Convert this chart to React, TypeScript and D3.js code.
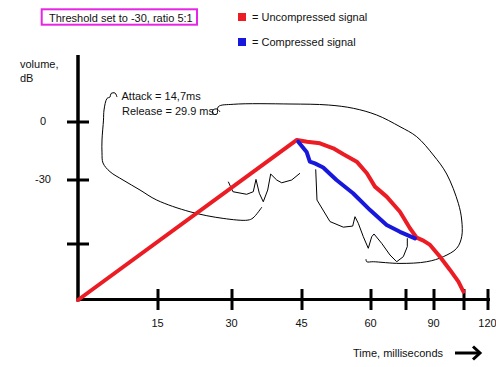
import React from "react";
import * as d3 from "d3";

// ---- data ----
const timeTicks = [0, 15, 30, 45, 60, 75, 90, 105, 120];
const timeTickLabels = ["", "15", "30", "45", "60", "", "90", "", "120"];
const dbTicks = [-90, -60, -30, 0];
const dbTickLabels = ["", "", "-30", "0"];

// [time ms, volume dB]
const uncompressed: [number, number][] = [
  [0, -90], [43.9, -9.3], [46.1, -10.2], [48.9, -11.0], [51.8, -13.6], [54.0, -16.7],
  [56.9, -20.5], [59.1, -26.5], [61.7, -33.1], [66.7, -37.8], [72.4, -44.9], [73.7, -47.2],
  [77.1, -52.6], [80.7, -57.0], [84.3, -58.4], [87.9, -60.5], [93, -66.8], [98, -73.9],
  [102.2, -80.2], [104.7, -85.5],
];
const compressed: [number, number][] = [
  [44.2, -10.2], [46.0, -15.5], [46.7, -20.5], [47.8, -21.4], [49.6, -23.5], [52.5, -30],
  [56.1, -36.2], [59.8, -44.1], [66.7, -51.1], [72.4, -54.3], [79.8, -57.4],
];

// hand-drawn annotation strokes, in data units
const attackStroke: [number, number][] = [
  [7.31, 12.9], [6.94, 15.0], [6.19, 14.7], [6.0, 12.9], [5.44, 12.2], [4.88, 6.2], [4.78, 1.0],
  [4.5, -9.3], [4.5, -16.0], [4.69, -21.2], [6.0, -25.7], [8.44, -30], [11.63, -34.7],
  [14.76, -39.4], [21.5, -44.9], [28.2, -48.0], [33.4, -48.8], [34.5, -47.8], [36.4, -42.7],
];
const attackWiggle: [number, number][] = [
  [29.25, -30.8], [30.2, -35.5], [33.15, -36.7], [34.56, -35.5], [35.14, -29.7], [35.85, -36.2],
  [36.7, -40.2], [37.65, -34.7], [38.29, -26.9], [39.58, -30], [40.65, -31.3], [42.79, -30],
  [44.57, -26.5],
];
const releaseWiggle: [number, number][] = [
  [47.98, -24.5], [48.26, -39.4], [51.09, -49.5], [53.98, -52.1], [56.02, -51.6], [56.52, -47.2],
  [57.24, -50.3], [58.33, -56.6], [59.41, -62.3], [60.3, -56.6], [61.29, -55.3], [64.59, -59.7],
  [68.14, -65.9], [71.01, -69.5], [73.84, -66.8], [75.7, -61.4], [75.7, -57.3],
];
const releaseStroke: [number, number][] = [
  [27.57, 5.17], [26.96, 6.73], [26.15, 6.21], [26.15, 4.14], [26.96, 4.14], [27.22, 7.92],
  [30.28, 9.16], [42.43, 9.31], [50.72, 8.79], [56.15, 7.09], [62.44, 3.62], [72.43, -2.43],
  [80.73, -7.6], [89.62, -17.07], [96.35, -26.9], [102.15, -40.9], [103.85, -48.75],
  [103.85, -56.6], [101.35, -62.3], [94.65, -66.8], [86.09, -69.5], [72.43, -70.4],
  [60.99, -69.5], [59.07, -69.5], [58.91, -68.1],
];

const titleText = "Threshold set to -30, ratio 5:1";
const legendLabels = ["= Uncompressed signal", "= Compressed signal"];
const yAxisTitle = ["volume,", "dB"];
const xAxisTitle = "Time, milliseconds";
const attackText = "Attack = 14,7ms";
const releaseText = "Release = 29.9 ms";

const RED = "#ec1c24";
const BLUE = "#1818dc";
const MAGENTA = "#e526e5";
const FONT = "'Liberation Sans', Arial, sans-serif";

export default function App() {
  const x = d3.scaleLinear().domain(timeTicks).range([78, 158, 232, 302, 371, 406, 434, 464, 488]);
  const y = d3.scaleLinear().domain(dbTicks).range([300, 244, 180, 122]);

  const lin = d3.line<[number, number]>().x((d) => x(d[0])).y((d) => y(d[1]));
  const smooth = d3
    .line<[number, number]>()
    .x((d) => x(d[0]))
    .y((d) => y(d[1]))
    .curve(d3.curveCatmullRom.alpha(0.5));

  const x0 = x(0);
  const yBase = y(-90);

  return (
    <svg
      width={496}
      height={367}
      style={{ position: "absolute", left: 0, top: 0, background: "#fff" }}
      fontFamily={FONT}
      fontSize={11}
    >
      <rect width={496} height={367} fill="#fff" />
      {/* title box */}
      <rect x={41.7} y={9.3} width={155.3} height={15.4} fill="none" stroke={MAGENTA} strokeWidth={2} />
      <text x={49} y={21.5} fill="#111">{titleText}</text>

      {/* legend */}
      {[RED, BLUE].map((c, i) => (
        <g key={i}>
          <rect x={238} y={13 + i * 25} width={8} height={8} fill={c} />
          <text x={252} y={20.5 + i * 25} fill="#111">{legendLabels[i]}</text>
        </g>
      ))}

      {/* y axis title */}
      {yAxisTitle.map((t, i) => (
        <text key={i} x={20} y={68 + i * 14} fill="#111">{t}</text>
      ))}

      {/* annotations */}
      <g fill="none" stroke="#000" strokeWidth={1}>
        <path d={smooth(attackStroke) || ""} />
        <path d={lin(attackWiggle) || ""} />
        <path d={lin(releaseWiggle) || ""} />
        <path d={smooth(releaseStroke) || ""} />
      </g>
      <text x={121.5} y={100} fill="#111">{attackText}</text>
      <text x={122} y={115} fill="#111">{releaseText}</text>

      {/* axes */}
      <g stroke="#000" strokeWidth={3}>
        <line x1={x0} x2={x0} y1={55} y2={301.5} strokeWidth={3.5} />
        <line x1={x0 - 1} x2={490} y1={yBase - 0.5} y2={yBase - 0.5} />
        {dbTicks.slice(1).map((v) => (
          <line key={v} x1={x0 - 11} x2={x0 + 11} y1={y(v)} y2={y(v)} />
        ))}
        {timeTicks.slice(1).map((t) => (
          <line key={t} x1={x(t)} x2={x(t)} y1={yBase - 11} y2={yBase + 10} />
        ))}
      </g>
      {dbTicks.map((v, i) =>
        dbTickLabels[i] ? (
          <text key={v} x={43} y={y(v) + 2.5} textAnchor="middle" fill="#111">{dbTickLabels[i]}</text>
        ) : null
      )}
      {timeTicks.map((t, i) =>
        timeTickLabels[i] ? (
          <text key={t} x={x(t) - 0.5} y={326.5} textAnchor="middle" fill="#111">{timeTickLabels[i]}</text>
        ) : null
      )}

      {/* signals */}
      <path d={lin(uncompressed) || ""} fill="none" stroke={RED} strokeWidth={4} strokeLinejoin="round" strokeLinecap="round" />
      <path d={lin(compressed) || ""} fill="none" stroke={BLUE} strokeWidth={4} strokeLinejoin="round" strokeLinecap="round" />

      {/* x axis title + arrow */}
      <text x={353} y={356.5} fill="#111">{xAxisTitle}</text>
      <g stroke="#000" strokeWidth={3} fill="none">
        <line x1={455} x2={479} y1={353} y2={353} />
        <path d="M473,346.5 L480,353 L473,359.5" />
      </g>
    </svg>
  );
}
